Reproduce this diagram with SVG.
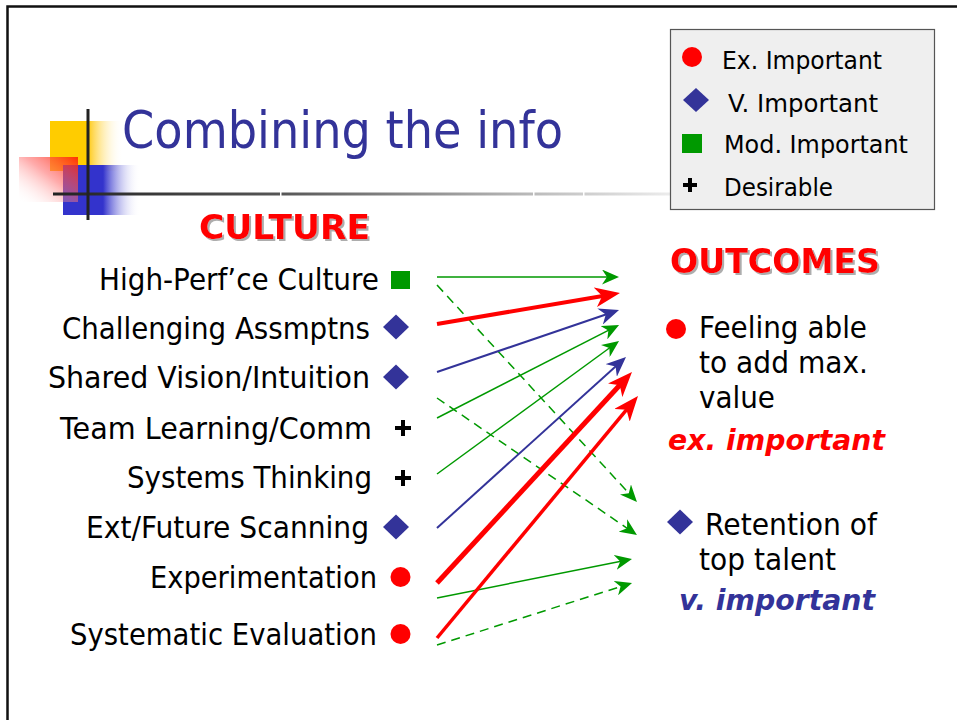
<svg xmlns="http://www.w3.org/2000/svg" width="957" height="720" viewBox="0 0 957 720">
<style>
.t{font-family:"DejaVu Sans","Liberation Sans",sans-serif;fill:#000;}
.body{font-size:30px;}
.leg{font-size:24px;}
.head{font-size:33px;font-weight:bold;}
.red{fill:#ff0000;}
.emph{font-size:29px;font-weight:bold;font-style:italic;}
.thinG{stroke:#009900;stroke-width:1.5;fill:none;}
.dashG{stroke:#009900;stroke-width:1.5;fill:none;stroke-dasharray:9 6;}
.blue{stroke:#333399;stroke-width:2;fill:none;}
.redL{stroke:#ff0000;fill:none;}
</style>
<defs>
<filter id="shadow" x="-10%" y="-20%" width="130%" height="150%">
<feDropShadow dx="2" dy="2" stdDeviation="0.6" flood-color="#999999" flood-opacity="0.8"/>
</filter>
<linearGradient id="gYel" x1="0" y1="0" x2="1" y2="0">
<stop offset="0" stop-color="#ffcc00"/>
<stop offset="0.52" stop-color="#ffcc00"/>
<stop offset="0.56" stop-color="#ffd23a"/>
<stop offset="1" stop-color="#ffffff" stop-opacity="0"/>
</linearGradient>
<linearGradient id="gBlu" x1="0" y1="0" x2="1" y2="0">
<stop offset="0" stop-color="#3333cc"/>
<stop offset="0.52" stop-color="#3333cc"/>
<stop offset="1" stop-color="#ffffff" stop-opacity="0"/>
</linearGradient>
<linearGradient id="gRed" x1="1" y1="0" x2="0" y2="1">
<stop offset="0" stop-color="#ff2200" stop-opacity="0.9"/>
<stop offset="0.45" stop-color="#ff6666" stop-opacity="0.55"/>
<stop offset="1" stop-color="#ffffff" stop-opacity="0"/>
</linearGradient>
<linearGradient id="gLine" x1="0" y1="0" x2="1" y2="0">
<stop offset="0" stop-color="#222222"/>
<stop offset="0.35" stop-color="#555555"/>
<stop offset="0.75" stop-color="#bbbbbb"/>
<stop offset="1" stop-color="#f4f4f4"/>
</linearGradient>
<marker id="aG" markerUnits="userSpaceOnUse" viewBox="0 0 17 15" refX="11" refY="7.5" markerWidth="17" markerHeight="15" orient="auto">
<path d="M0,0 L17,7.5 L0,15 L5,7.5 Z" fill="#009900"/>
</marker>
<marker id="aB" markerUnits="userSpaceOnUse" viewBox="0 0 20 17" refX="13" refY="8.5" markerWidth="20" markerHeight="17" orient="auto">
<path d="M0,0 L20,8.5 L0,17 L6,8.5 Z" fill="#333399"/>
</marker>
<marker id="aR" markerUnits="userSpaceOnUse" viewBox="0 0 25 20" refX="15" refY="10" markerWidth="25" markerHeight="20" orient="auto">
<path d="M0,0 L25,10 L0,20 L7,10 Z" fill="#ff0000"/>
</marker>
</defs>
<rect x="0" y="0" width="957" height="720" fill="#ffffff"/>
<g id="frame">
<polyline points="7.5,720 7.5,6.5 957,6.5" fill="none" stroke="#111111" stroke-width="2.5"/>
</g>
<g id="logo">
<rect x="50" y="121" width="73" height="50" fill="url(#gYel)"/>
<rect x="63" y="165" width="77" height="50" fill="url(#gBlu)"/>
<rect x="19" y="157" width="59" height="45" fill="url(#gRed)"/>
<rect x="53" y="192.5" width="640" height="3" fill="url(#gLine)"/>
<rect x="280" y="191" width="1.5" height="6" fill="#ffffff"/>
<rect x="533" y="191" width="1.5" height="6" fill="#ffffff"/>
<rect x="583" y="191" width="1.5" height="6" fill="#ffffff"/>
<rect x="86.5" y="109" width="3" height="111" fill="#222222"/>
</g>
<g id="title">
<text class="t" x="122" y="148" font-size="51" style="fill:#333399" textLength="441" lengthAdjust="spacingAndGlyphs">Combining the info</text>
</g>
<g id="legend">
<rect x="670.5" y="29.5" width="264" height="180" fill="#efefef" stroke="#555555" stroke-width="1.2"/>
<circle cx="692" cy="57" r="10" fill="#ff0000"/>
<text class="t leg" x="722" y="69" textLength="160" lengthAdjust="spacingAndGlyphs">Ex. Important</text>
<polygon points="683,100 696,88 709,100 696,112" fill="#333399"/>
<text class="t leg" x="728" y="112" textLength="150" lengthAdjust="spacingAndGlyphs">V. Important</text>
<rect x="682" y="134" width="20" height="19" fill="#009900"/>
<text class="t leg" x="724" y="153" textLength="184" lengthAdjust="spacingAndGlyphs">Mod. Important</text>
<rect x="683" y="183" width="14" height="4" fill="#000000"/>
<rect x="688" y="178" width="4" height="14" fill="#000000"/>
<text class="t leg" x="724" y="196" textLength="109" lengthAdjust="spacingAndGlyphs">Desirable</text>
</g>
<g id="culture-heading">
<text class="t head red" x="199" y="239" filter="url(#shadow)" textLength="171" lengthAdjust="spacingAndGlyphs">CULTURE</text>
</g>
<g id="outcomes-heading">
<text class="t head red" x="670" y="273" filter="url(#shadow)" textLength="210" lengthAdjust="spacingAndGlyphs">OUTCOMES</text>
</g>
<g id="node-high-perf">
<text class="t body" x="99" y="290" textLength="280" lengthAdjust="spacingAndGlyphs">High-Perf’ce Culture</text>
<rect x="391" y="271" width="19" height="18" fill="#009900"/>
</g>
<g id="node-challenging">
<text class="t body" x="62" y="339" textLength="308" lengthAdjust="spacingAndGlyphs">Challenging Assmptns</text>
<polygon points="383,327 396,314.5 409,327 396,339.5" fill="#333399"/>
</g>
<g id="node-shared-vision">
<text class="t body" x="48" y="388" textLength="322" lengthAdjust="spacingAndGlyphs">Shared Vision/Intuition</text>
<polygon points="383,377 396,364.5 409,377 396,389.5" fill="#333399"/>
</g>
<g id="node-team-learning">
<text class="t body" x="60" y="439" textLength="312" lengthAdjust="spacingAndGlyphs">Team Learning/Comm</text>
<rect x="395" y="426" width="16" height="4" fill="#000000"/>
<rect x="401" y="420" width="4" height="16" fill="#000000"/>
</g>
<g id="node-systems-thinking">
<text class="t body" x="127" y="488" textLength="245" lengthAdjust="spacingAndGlyphs">Systems Thinking</text>
<rect x="395" y="476" width="16" height="4" fill="#000000"/>
<rect x="401" y="470" width="4" height="16" fill="#000000"/>
</g>
<g id="node-ext-future">
<text class="t body" x="86" y="538" textLength="283" lengthAdjust="spacingAndGlyphs">Ext/Future Scanning</text>
<polygon points="383,527 396,514.5 409,527 396,539.5" fill="#333399"/>
</g>
<g id="node-experimentation">
<text class="t body" x="150" y="588" textLength="227" lengthAdjust="spacingAndGlyphs">Experimentation</text>
<circle cx="400.5" cy="577" r="10" fill="#ff0000"/>
</g>
<g id="node-systematic-eval">
<text class="t body" x="70" y="645" textLength="307" lengthAdjust="spacingAndGlyphs">Systematic Evaluation</text>
<circle cx="400.5" cy="634" r="10" fill="#ff0000"/>
</g>
<g id="outcome-feeling">
<circle cx="676" cy="329" r="10" fill="#ff0000"/>
<text class="t body" x="699" y="338" textLength="168" lengthAdjust="spacingAndGlyphs">Feeling able</text>
<text class="t body" x="699" y="373" textLength="169" lengthAdjust="spacingAndGlyphs">to add max.</text>
<text class="t body" x="699" y="408" textLength="76" lengthAdjust="spacingAndGlyphs">value</text>
<text class="t emph red" x="668" y="450" textLength="217" lengthAdjust="spacingAndGlyphs">ex. important</text>
</g>
<g id="outcome-retention">
<polygon points="667,522 680,509.5 693,522 680,534.5" fill="#333399"/>
<text class="t body" x="705" y="535" textLength="172" lengthAdjust="spacingAndGlyphs">Retention of</text>
<text class="t body" x="699" y="570" textLength="137" lengthAdjust="spacingAndGlyphs">top talent</text>
<text class="t emph" x="679" y="610" style="fill:#333399" textLength="196" lengthAdjust="spacingAndGlyphs">v. important</text>
</g>
<g id="connectors">
<line class="thinG" x1="437" y1="277" x2="613" y2="277" marker-end="url(#aG)"/>
<line class="dashG" x1="437" y1="285" x2="632.9" y2="497.6" marker-end="url(#aG)"/>
<line class="dashG" x1="437" y1="398" x2="632" y2="531.6" marker-end="url(#aG)"/>
<line class="thinG" x1="437" y1="418" x2="613.7" y2="327.7" marker-end="url(#aG)"/>
<line class="thinG" x1="437" y1="474" x2="614.2" y2="344.5" marker-end="url(#aG)"/>
<line class="thinG" x1="437" y1="598" x2="626.1" y2="560.2" marker-end="url(#aG)"/>
<line class="dashG" x1="437" y1="645" x2="626.3" y2="584.8" marker-end="url(#aG)"/>
<line class="blue" x1="437" y1="372" x2="612.4" y2="312.3" marker-end="url(#aB)"/>
<line class="blue" x1="437" y1="528" x2="620.8" y2="361.7" marker-end="url(#aB)"/>
<line class="redL" stroke-width="4" x1="437" y1="324" x2="610.1" y2="294.7" marker-end="url(#aR)"/>
<line class="redL" stroke-width="5" x1="437" y1="583" x2="625.2" y2="379.3" marker-end="url(#aR)"/>
<line class="redL" stroke-width="3.5" x1="437" y1="638" x2="631.6" y2="403.7" marker-end="url(#aR)"/>
</g>
</svg>
